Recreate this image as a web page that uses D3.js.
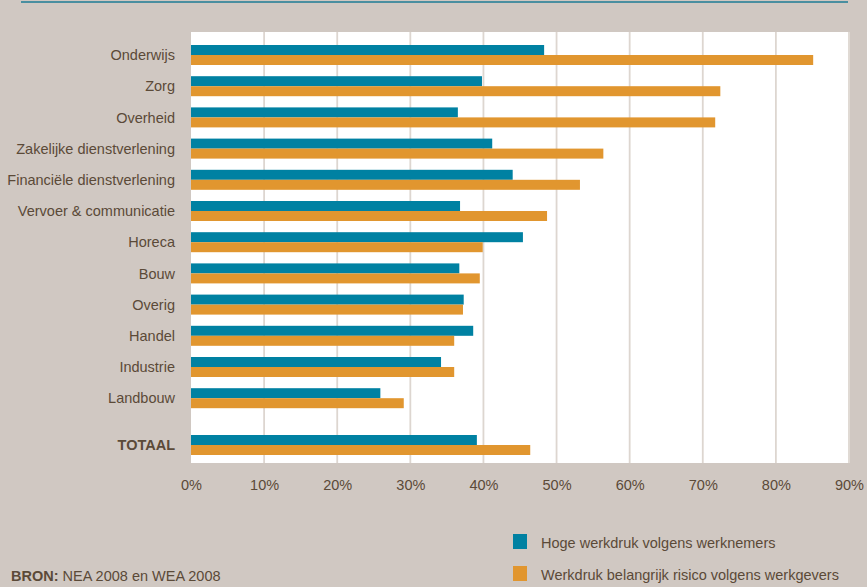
<!DOCTYPE html>
<html>
<head>
<meta charset="utf-8">
<script src="https://cdn.jsdelivr.net/npm/d3@7"></script>
<style>
  body { margin: 0; background: #d0c8c2; }
  svg { display: block; }
  text { font-family: "Liberation Sans Narrow", "Liberation Sans", sans-serif; fill: #5b4a38; }
</style>
</head>
<body>
<div id="chart"></div>
<script>
const categories = ['Onderwijs', 'Zorg', 'Overheid', 'Zakelijke dienstverlening', 'Financiële dienstverlening',
  'Vervoer & communicatie', 'Horeca', 'Bouw', 'Overig', 'Handel', 'Industrie', 'Landbouw', 'TOTAAL'];
const werknemers = [48.3, 39.8, 36.5, 41.2, 44.0, 36.8, 45.4, 36.7, 37.3, 38.6, 34.2, 25.9, 39.1];
const werkgevers = [85.1, 72.4, 71.7, 56.4, 53.2, 48.7, 39.9, 39.5, 37.2, 36.0, 36.0, 29.1, 46.4];
const xTicks = [0, 10, 20, 30, 40, 50, 60, 70, 80, 90];
const seriesNames = ['Hoge werkdruk volgens werknemers', 'Werkdruk belangrijk risico volgens werkgevers'];
const colors = ['#0081a2', '#e1962f'];

const W = 867, H = 587;
const plot = {left: 191, right: 850, top: 32, bottom: 463};
const barH = 10;
const fs = 14.5;

const svg = d3.select('#chart').append('svg')
    .attr('width', W)
    .attr('height', H)

// top rule
svg.append('rect')
    .attr('x', 21).attr('y', 1).attr('width', 827).attr('height', 2)
    .attr('fill', '#4a8fa0')

svg.append('rect')
    .attr('x', plot.left).attr('y', plot.top)
    .attr('width', plot.right - plot.left).attr('height', plot.bottom - plot.top)
    .attr('fill', '#fff')

const x = d3.scaleLinear().domain([0, 90]).range([plot.left, 849])

// TOTAAL sits half a step further down
const pos = categories.map((c, i) => c === 'TOTAAL' ? i + 0.5 : i)
const y = d3.scaleLinear().domain([0, 12.5]).range([45, 435])

// grid
svg.append('g').selectAll('line')
    .data(xTicks.slice(1))
    .enter().append('line')
    .attr('x1', d => x(d)).attr('x2', d => x(d))
    .attr('y1', plot.top).attr('y2', plot.bottom)
    .attr('stroke', '#ddd6d0')
    .attr('stroke-width', 1.8)

// bars
const rows = svg.append('g').selectAll('g')
    .data(categories)
    .enter().append('g')
    .attr('transform', (d, i) => `translate(0, ${y(pos[i])})`)

rows.append('rect')
    .attr('x', x(0))
    .attr('y', 0)
    .attr('width', (d, i) => x(werknemers[i]) - x(0))
    .attr('height', barH)
    .attr('fill', colors[0])

rows.append('rect')
    .attr('x', x(0))
    .attr('y', barH)
    .attr('width', (d, i) => x(werkgevers[i]) - x(0))
    .attr('height', barH)
    .attr('fill', colors[1])

rows.append('text')
    .attr('x', 175)
    .attr('y', barH)
    .attr('dy', '0.36em')
    .attr('text-anchor', 'end')
    .attr('font-size', fs)
    .attr('font-weight', d => d === 'TOTAAL' ? 'bold' : 'normal')
    .text(d => d)

// x axis labels
const xAxis = d3.axisBottom(x)
    .tickValues(xTicks)
    .tickFormat(d => d + '%')
    .tickSize(0)
    .tickPadding(0)

const xg = svg.append('g')
    .attr('transform', 'translate(0, 480)')
    .call(xAxis)
xg.select('.domain').remove()
xg.selectAll('text')
    .attr('font-size', fs)
    .attr('font-family', null)
    .attr('fill', null)

// legend
const legend = svg.append('g').selectAll('g')
    .data(seriesNames)
    .enter().append('g')
    .attr('transform', (d, i) => `translate(513, ${534 + i * 32})`)

legend.append('rect')
    .attr('width', 14).attr('height', 15)
    .attr('fill', (d, i) => colors[i])

legend.append('text')
    .attr('x', 28).attr('y', 14)
    .attr('font-size', fs)
    .text(d => d)

// source
const src = svg.append('text')
    .attr('x', 11).attr('y', 581)
    .attr('font-size', fs)
src.append('tspan').attr('font-weight', 'bold').text('BRON:')
src.append('tspan').text(' NEA 2008 en WEA 2008')
</script>
</body>
</html>
